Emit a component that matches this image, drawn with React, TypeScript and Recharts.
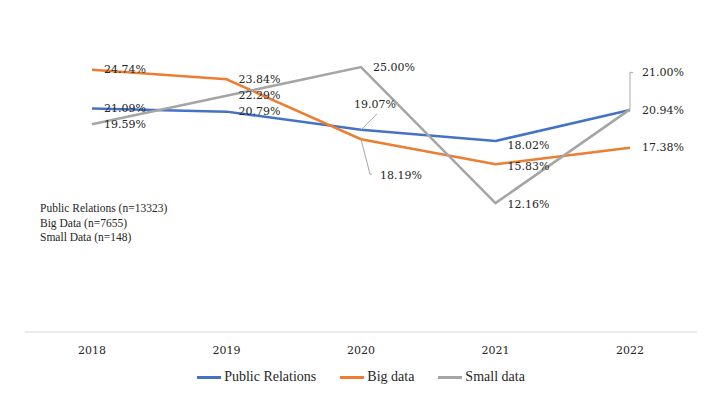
import React from 'react';
import { LineChart, Line, XAxis, YAxis, Legend, LabelList } from 'recharts';

const years = ['2018', '2019', '2020', '2021', '2022'];
const publicRelations = [21.09, 20.79, 19.07, 18.02, 20.94];
const bigData = [24.74, 23.84, 18.19, 15.83, 17.38];
const smallData = [19.59, 22.29, 25.0, 12.16, 21.0];
const sampleNotes = ['Public Relations (n=13323)', 'Big Data (n=7655)', 'Small Data (n=148)'];

const data = years.map((year, i) => ({
  year,
  pr: publicRelations[i],
  big: bigData[i],
  small: smallData[i],
}));

const SERIES = [
  { key: 'pr', name: 'Public Relations', color: '#4472C4' },
  { key: 'big', name: 'Big data', color: '#ED7D31' },
  { key: 'small', name: 'Small data', color: '#A5A5A5' },
];

const LABEL_FONT = '"DejaVu Serif", Georgia, serif';

// label placement tweaks per series/index (offsets from the point, leader lines)
type Tweak = { dx: number; dy: number; leader?: [number, number][] };
const TWEAKS: Record<string, Record<number, Tweak>> = {
  pr: {
    2: { dx: -7, dy: -25, leader: [[0, 0], [16, -16]] },
    3: { dx: 12, dy: 5 },
  },
  big: {
    2: { dx: 19, dy: 36, leader: [[0, 0], [9, 35], [11, 35]] },
    3: { dx: 12, dy: 2 },
  },
  small: {
    3: { dx: 12, dy: 1 },
    4: { dx: 12, dy: -37, leader: [[0, 0], [0, -37], [3, -37]] },
  },
};

const makeLabel = (seriesKey: string) => (props: any) => {
  const { x, y, value, index } = props;
  const t = TWEAKS[seriesKey][index] || { dx: 12, dy: 0 };
  return (
    <g>
      {t.leader && (
        <polyline
          points={t.leader.map(([a, b]) => `${x + a},${y + b}`).join(' ')}
          fill="none"
          stroke="#a6a6a6"
          strokeWidth={1}
        />
      )}
      <text
        x={x + t.dx}
        y={y + t.dy}
        dominantBaseline="central"
        fontFamily={LABEL_FONT}
        fontSize={11}
        fill="#262626"
      >
        {`${Number(value).toFixed(2)}%`}
      </text>
    </g>
  );
};

const renderLegend = () => (
  <div
    style={{
      display: 'flex',
      justifyContent: 'center',
      alignItems: 'center',
      height: 30,
      fontFamily: '"Liberation Serif", serif',
      fontSize: 14,
      color: '#262626',
    }}
  >
    {SERIES.map(s => (
      <div key={s.key} style={{ display: 'flex', alignItems: 'center', margin: '0 12px' }}>
        <span style={{ display: 'inline-block', width: 24, height: 3, background: s.color, marginRight: 3 }} />
        <span>{s.name}</span>
      </div>
    ))}
  </div>
);

export default function App() {
  return (
    <div style={{ position: 'absolute', left: 0, top: 0, width: 720, height: 396, background: '#fff' }}>
      <LineChart width={720} height={396} data={data} margin={{ top: 14, right: 23, left: 25, bottom: 0 }}>
        <XAxis
          dataKey="year"
          axisLine={{ stroke: '#d9d9d9' }}
          tickLine={false}
          tickMargin={8}
          height={30}
          padding={{ left: 67, right: 67 }}
          tick={{ fontFamily: LABEL_FONT, fontSize: 11, fill: '#262626' }}
        />
        <YAxis hide domain={[0, 30]} />
        {SERIES.map(s => (
          <Line
            key={s.key}
            type="linear"
            dataKey={s.key}
            name={s.name}
            stroke={s.color}
            strokeWidth={2.5}
            dot={false}
            isAnimationActive={false}
          >
            <LabelList dataKey={s.key} content={makeLabel(s.key)} />
          </Line>
        ))}
        <Legend verticalAlign="bottom" height={34} content={renderLegend} />
      </LineChart>
      <div
        style={{
          position: 'absolute',
          left: 40,
          top: 201,
          fontFamily: '"Liberation Serif", serif',
          fontSize: 11.5,
          lineHeight: '14.5px',
          color: '#262626',
        }}
      >
        {sampleNotes.map(n => (
          <div key={n}>{n}</div>
        ))}
      </div>
    </div>
  );
}
